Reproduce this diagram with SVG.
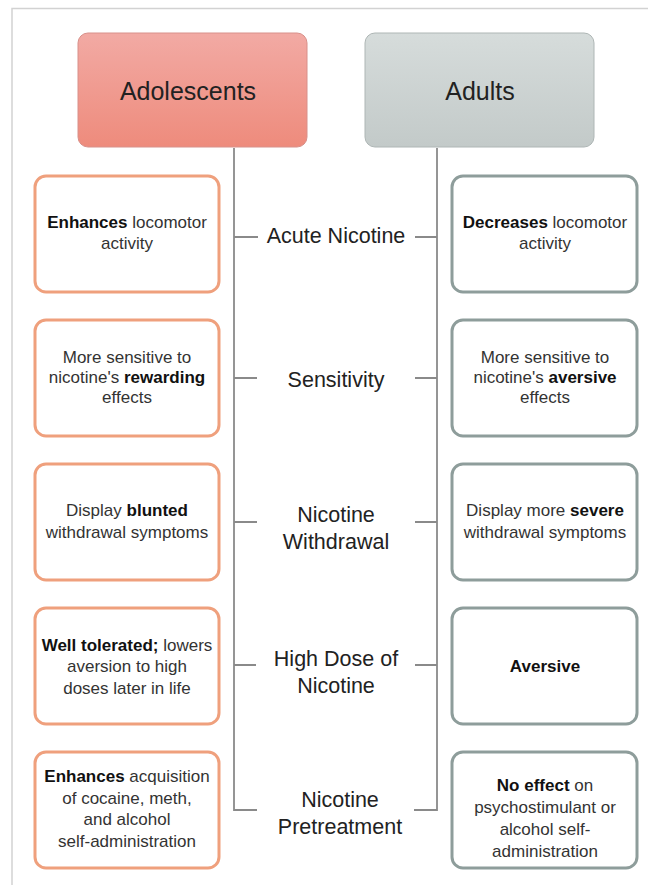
<svg xmlns="http://www.w3.org/2000/svg" width="648" height="885" viewBox="0 0 648 885">
<defs>
<linearGradient id="gAdol" x1="0" y1="0" x2="0" y2="1">
<stop offset="0" stop-color="#F2AAA4"/>
<stop offset="1" stop-color="#EE8B7C"/>
</linearGradient>
<linearGradient id="gAdult" x1="0" y1="0" x2="0" y2="1">
<stop offset="0" stop-color="#D6DCDB"/>
<stop offset="1" stop-color="#C3CAC9"/>
</linearGradient>
<style>
text{font-family:"Liberation Sans",Arial,Helvetica,sans-serif;text-anchor:middle;}
.hdr{font-size:25px;fill:#222;}
.lbl{font-size:21.5px;fill:#222;}
.bt{font-size:17px;fill:#333;}
.b{font-weight:bold;fill:#111;}
.ob{fill:#fff;stroke:#EFA07D;stroke-width:3;}
.gb{fill:#fff;stroke:#8E9D9B;stroke-width:3;}
.conn{fill:none;stroke:#8A8A8A;stroke-width:1.8;}
</style>
</defs>
<rect x="0" y="0" width="648" height="885" fill="#fff"/>
<path d="M12 885 V8.5 H648" fill="none" stroke="#D2D2D2" stroke-width="1.5"/>

<g id="connectors">
<path class="conn" d="M234 148 V810 H257"/>
<path class="conn" d="M437 148 V810 H414"/>
<path class="conn" d="M234 237 H258 M234 378 H257 M234 522 H257 M234 665 H256"/>
<path class="conn" d="M437 237 H415 M437 378 H415 M437 522 H415 M437 665 H415"/>
</g>

<g id="adolescents">
<rect x="78" y="33" width="229" height="114" rx="10" fill="url(#gAdol)" stroke="#D8908A" stroke-width="1"/>
<text class="hdr" x="188" y="100">Adolescents</text>
</g>
<g id="adults">
<rect x="365" y="33" width="229" height="114" rx="10" fill="url(#gAdult)" stroke="#AEB6B5" stroke-width="1"/>
<text class="hdr" x="480" y="100">Adults</text>
</g>

<g id="label-acute"><text class="lbl" x="336" y="243">Acute Nicotine</text></g>
<g id="label-sensitivity"><text class="lbl" x="336" y="387">Sensitivity</text></g>
<g id="label-withdrawal"><text class="lbl" x="336" y="522">Nicotine</text><text class="lbl" x="336" y="549">Withdrawal</text></g>
<g id="label-highdose"><text class="lbl" x="336" y="666">High Dose of</text><text class="lbl" x="336" y="693">Nicotine</text></g>
<g id="label-pretreatment"><text class="lbl" x="340" y="807">Nicotine</text><text class="lbl" x="340" y="834">Pretreatment</text></g>

<g id="adol-acute">
<rect class="ob" x="35" y="176" width="184" height="116" rx="11"/>
<text class="bt" x="127" y="228"><tspan class="b">Enhances</tspan> locomotor</text>
<text class="bt" x="127" y="249">activity</text>
</g>
<g id="adol-sensitivity">
<rect class="ob" x="35" y="320" width="184" height="116" rx="11"/>
<text class="bt" x="127" y="363">More sensitive to</text>
<text class="bt" x="127" y="383">nicotine's <tspan class="b">rewarding</tspan></text>
<text class="bt" x="127" y="403">effects</text>
</g>
<g id="adol-withdrawal">
<rect class="ob" x="35" y="464" width="184" height="116" rx="11"/>
<text class="bt" x="127" y="516">Display <tspan class="b">blunted</tspan></text>
<text class="bt" x="127" y="538">withdrawal symptoms</text>
</g>
<g id="adol-highdose">
<rect class="ob" x="35" y="608" width="184" height="116" rx="11"/>
<text class="bt" x="127" y="651"><tspan class="b">Well tolerated;</tspan> lowers</text>
<text class="bt" x="127" y="672">aversion to high</text>
<text class="bt" x="127" y="694">doses later in life</text>
</g>
<g id="adol-pretreatment">
<rect class="ob" x="35" y="752" width="184" height="116" rx="11"/>
<text class="bt" x="127" y="782"><tspan class="b">Enhances</tspan> acquisition</text>
<text class="bt" x="127" y="804">of cocaine, meth,</text>
<text class="bt" x="127" y="825">and alcohol</text>
<text class="bt" x="127" y="847">self-administration</text>
</g>

<g id="adult-acute">
<rect class="gb" x="452" y="176" width="185" height="116" rx="11"/>
<text class="bt" x="545" y="228"><tspan class="b">Decreases</tspan> locomotor</text>
<text class="bt" x="545" y="249">activity</text>
</g>
<g id="adult-sensitivity">
<rect class="gb" x="452" y="320" width="185" height="116" rx="11"/>
<text class="bt" x="545" y="363">More sensitive to</text>
<text class="bt" x="545" y="383">nicotine's <tspan class="b">aversive</tspan></text>
<text class="bt" x="545" y="403">effects</text>
</g>
<g id="adult-withdrawal">
<rect class="gb" x="452" y="464" width="185" height="116" rx="11"/>
<text class="bt" x="545" y="516">Display more <tspan class="b">severe</tspan></text>
<text class="bt" x="545" y="538">withdrawal symptoms</text>
</g>
<g id="adult-highdose">
<rect class="gb" x="452" y="608" width="185" height="116" rx="11"/>
<text class="bt" x="545" y="672"><tspan class="b">Aversive</tspan></text>
</g>
<g id="adult-pretreatment">
<rect class="gb" x="452" y="752" width="185" height="116" rx="11"/>
<text class="bt" x="545" y="791"><tspan class="b">No effect</tspan> on</text>
<text class="bt" x="545" y="813">psychostimulant or</text>
<text class="bt" x="545" y="835">alcohol self-</text>
<text class="bt" x="545" y="857">administration</text>
</g>
</svg>
